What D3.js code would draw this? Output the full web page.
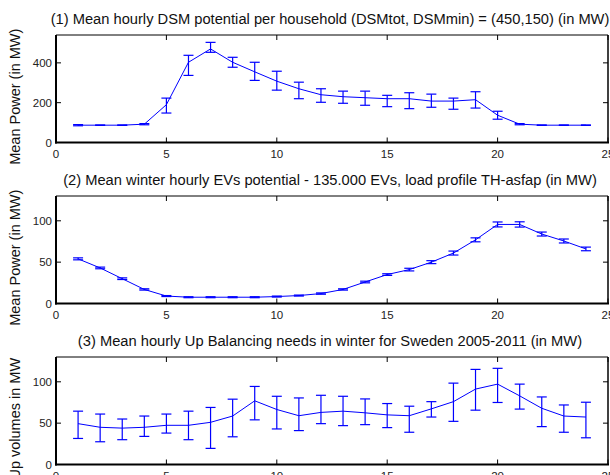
<!DOCTYPE html>
<html>
<head>
<meta charset="utf-8">
<script src="https://cdn.jsdelivr.net/npm/d3@7"></script>
<style>
  body { margin: 0; background: #fff; }
  text { font-family: "Liberation Sans", Arial, sans-serif; }
</style>
</head>
<body>
<div id="chart"></div>
<script>
var svgWidth = 610;
var svgHeight = 475;

var hours = d3.range(1, 25);

// (1) DSM potential
var dsmMean = [87, 87, 87, 92, 190, 403, 470, 403, 355, 308, 270, 240, 230, 225, 220, 220, 208, 208, 215, 137, 92, 87, 87, 87];
var dsmLow  = [84, 86, 86, 89, 148, 337, 453, 378, 312, 263, 220, 202, 197, 187, 180, 170, 177, 167, 173, 117, 89, 86, 86, 86];
var dsmHigh = [90, 88, 88, 95, 223, 438, 503, 428, 403, 358, 303, 270, 258, 258, 237, 250, 243, 223, 255, 157, 95, 88, 88, 88];

// (2) EV potential
var evMean = [54, 43, 30, 17, 9, 7.6, 7.6, 7.6, 7.6, 8.4, 9.6, 12, 17, 26, 35, 41, 50, 61, 77, 95.6, 95.6, 84, 75.6, 66];
var evErr  = [1.2, 1, 1, 0.8, 0.6, 0.6, 0.6, 0.6, 0.6, 0.6, 0.6, 0.8, 0.8, 1, 1, 1.6, 1.8, 2.4, 2.4, 3, 3.2, 2.4, 2.4, 2.2];

// (3) Up balancing needs
var upMean = [49.4, 45, 44, 45, 47.4, 47.4, 51, 58.6, 77, 66.5, 59, 63, 64.5, 62.5, 60, 59, 67.3, 76, 91.2, 97.2, 83, 68, 58.6, 57.4];
var upLow  = [31.5, 27.5, 30, 34, 38, 30, 19.5, 33.5, 54, 43, 41, 49.4, 47, 48.2, 44.6, 39, 57.4, 52.2, 65.7, 75, 67, 45.8, 39, 32.3];
var upHigh = [64.5, 61, 55, 58.6, 61, 64.5, 69, 79, 94.4, 82.5, 80.5, 83.7, 82.5, 79.3, 73.7, 70.5, 76, 98.4, 115, 116.3, 97.2, 81.7, 72, 75.3];

var xTicks = [0, 5, 10, 15, 20, 25];

var panels = [
  {title: "(1) Mean hourly DSM potential per household (DSMtot, DSMmin) = (450,150) (in MW)",
   ylabel: "Mean Power (in MW)", top: 35, yMax: 540, yTicks: [0, 200, 400],
   mean: dsmMean, low: dsmLow, high: dsmHigh},
  {title: "(2) Mean winter hourly EVs potential - 135.000 EVs, load profile TH-asfap (in MW)",
   ylabel: "Mean Power (in MW)", top: 196, yMax: 130, yTicks: [0, 50, 100],
   mean: evMean, low: evMean.map((v, i) => v - evErr[i]), high: evMean.map((v, i) => v + evErr[i])},
  {title: "(3) Mean hourly Up Balancing needs in winter for Sweden 2005-2011 (in MW)",
   ylabel: "Up volumes in MW", top: 357, yMax: 130, yTicks: [0, 50, 100],
   mean: upMean, low: upLow, high: upHigh}
];

var left = 56, right = 608, plotH = 107.5;
var blue = "#0000ff";

var svg = d3.select("#chart").append("svg")
  .attr("width", svgWidth)
  .attr("height", svgHeight);

var x = d3.scaleLinear().domain([0, 25]).range([left, right]);

panels.forEach(function(p) {
  var bottom = p.top + plotH;
  var y = d3.scaleLinear().domain([0, p.yMax]).range([bottom, p.top]);
  var g = svg.append("g");

  // ticks (inward, all four sides)
  xTicks.forEach(function(t) {
    g.append("line").attr("x1", x(t)).attr("x2", x(t)).attr("y1", bottom).attr("y2", bottom - 5)
      .attr("stroke", "#000");
    g.append("line").attr("x1", x(t)).attr("x2", x(t)).attr("y1", p.top).attr("y2", p.top + 5)
      .attr("stroke", "#000");
    g.append("text").attr("x", x(t)).attr("y", bottom + 15)
      .attr("text-anchor", "middle").style("font-size", "11.5px").attr("fill", "#222").text(t);
  });
  p.yTicks.forEach(function(t) {
    g.append("line").attr("x1", left).attr("x2", left + 5).attr("y1", y(t)).attr("y2", y(t))
      .attr("stroke", "#000");
    g.append("line").attr("x1", right).attr("x2", right - 5).attr("y1", y(t)).attr("y2", y(t))
      .attr("stroke", "#000");
    g.append("text").attr("x", left - 4).attr("y", y(t) + 4)
      .attr("text-anchor", "end").style("font-size", "11.5px").attr("fill", "#222").text(t);
  });

  // box
  g.append("line").attr("x1", left).attr("x2", right).attr("y1", p.top).attr("y2", p.top)
    .attr("stroke", "#000").attr("stroke-width", 1);
  g.append("line").attr("x1", right).attr("x2", right).attr("y1", p.top).attr("y2", bottom)
    .attr("stroke", "#000").attr("stroke-width", 1.5);
  g.append("line").attr("x1", left).attr("x2", left).attr("y1", p.top).attr("y2", bottom + 1)
    .attr("stroke", "#000").attr("stroke-width", 2);
  g.append("line").attr("x1", left - 1).attr("x2", right + 1).attr("y1", bottom).attr("y2", bottom)
    .attr("stroke", "#000").attr("stroke-width", 2);

  // error bars
  var eb = g.selectAll(".eb").data(hours).enter().append("g");
  eb.append("line")
    .attr("x1", (d, i) => x(d)).attr("x2", (d, i) => x(d))
    .attr("y1", (d, i) => y(p.low[i])).attr("y2", (d, i) => y(p.high[i]))
    .attr("stroke", blue).attr("stroke-width", 1.2);
  eb.append("line")
    .attr("x1", (d, i) => x(d) - 5).attr("x2", (d, i) => x(d) + 5)
    .attr("y1", (d, i) => y(p.low[i])).attr("y2", (d, i) => y(p.low[i]))
    .attr("stroke", blue).attr("stroke-width", 1.2);
  eb.append("line")
    .attr("x1", (d, i) => x(d) - 5).attr("x2", (d, i) => x(d) + 5)
    .attr("y1", (d, i) => y(p.high[i])).attr("y2", (d, i) => y(p.high[i]))
    .attr("stroke", blue).attr("stroke-width", 1.2);

  // mean line
  var line = d3.line().x((d, i) => x(hours[i])).y(d => y(d));
  g.append("path").datum(p.mean).attr("d", line)
    .attr("fill", "none").attr("stroke", blue).attr("stroke-width", 1);

  // title
  g.append("text").attr("x", (left + right) / 2 - 2).attr("y", p.top - 11)
    .attr("text-anchor", "middle").style("font-size", "14.7px").attr("fill", "#111").text(p.title);

  // y label
  g.append("text")
    .attr("transform", `translate(20, ${p.top + plotH / 2 + 8}) rotate(-90)`)
    .attr("text-anchor", "middle").style("font-size", "14.5px").attr("fill", "#111").text(p.ylabel);
});
</script>
</body>
</html>
